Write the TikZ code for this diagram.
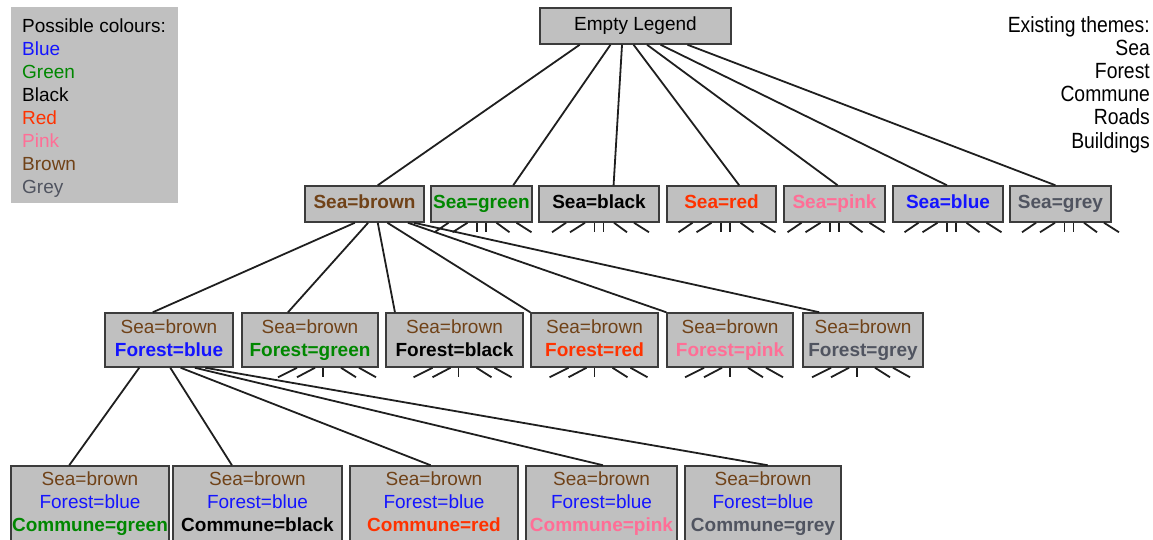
\documentclass[tikz,border=0pt]{standalone}
\usepackage{fontspec}
\setmainfont{Liberation Sans}
\newfontfamily\narrowfont[FakeStretch=0.88]{Liberation Sans}
\usetikzlibrary{calc}

\definecolor{cbrown}{RGB}{112,66,24}
\definecolor{cgreen}{RGB}{0,135,0}
\definecolor{cblue}{RGB}{20,20,255}
\definecolor{cred}{RGB}{255,50,0}
\definecolor{cpink}{RGB}{255,110,150}
\definecolor{cgrey}{RGB}{80,84,96}
\definecolor{boxfill}{RGB}{192,192,192}
\definecolor{boxline}{RGB}{60,60,60}

\tikzset{
  box/.style={draw=boxline, fill=boxfill, line width=1.5pt, inner sep=0pt,
    align=center, font=\fontsize{19}{23}\selectfont,
    execute at begin node=\vphantom{Sb}, execute at end node=\vphantom{g}},
  conn/.style={line width=1.8pt, draw=black!88},
  legtext/.style={anchor=base west, inner sep=0pt, font=\fontsize{19}{23}\selectfont},
  themetext/.style={anchor=base east, inner sep=0pt, font=\narrowfont\fontsize{22}{23}\selectfont},
}

% connector from a point along the bottom of one node to a point along the top of another
\newcommand\treeedge[4]{%
  \draw[conn] ($(#1.south west)!#2!(#1.south east)$) -- ($(#3.north west)!#4!(#3.north east)$);}
% short stubs below a node standing for six hidden children
\newcommand\stubsix[2]{%
  \foreach \s/\d in {-33/-14, -14/-15, -4.5/0, 4.5/0, 15/13, 35/15}
    \draw[conn] ($(#1.south)+(\s+#2,0)$) -- ++(\d,9.5);}
% short stubs below a node standing for five hidden children
\newcommand\stubfive[2]{%
  \foreach \s/\d in {-26/-19, -8/-18, 0/0, 18/15, 36/17}
    \draw[conn] ($(#1.south)+(\s+#2,0)$) -- ++(\d,9.5);}

\begin{document}
\begin{tikzpicture}[x=1pt,y=-1pt]
\useasboundingbox (0,0) rectangle (1153,539);

% colour legend
\node[fill=boxfill, inner sep=0pt, minimum width=167pt, minimum height=196pt, anchor=north west]
  (legendbox) at (11,7) {};
\node[legtext] (leg1) at (22,32) {Possible colours:};
\node[legtext, text=cblue]  (leg2) at (22,55) {Blue};
\node[legtext, text=cgreen] (leg3) at (22,78) {Green};
\node[legtext, text=black]  (leg4) at (22,101) {Black};
\node[legtext, text=cred]   (leg5) at (22,124) {Red};
\node[legtext, text=cpink]  (leg6) at (22,147) {Pink};
\node[legtext, text=cbrown] (leg7) at (22,170) {Brown};
\node[legtext, text=cgrey]  (leg8) at (22,193) {Grey};

% theme list
\node[themetext] (th1) at (1150,32) {Existing themes:};
\node[themetext] (th2) at (1150,55.2) {Sea};
\node[themetext] (th3) at (1150,78.4) {Forest};
\node[themetext] (th4) at (1150,101.6) {Commune};
\node[themetext] (th5) at (1150,124.8) {Roads};
\node[themetext] (th6) at (1150,148) {Buildings};

% root
\node[box, minimum width=191pt, minimum height=36pt] (root) at (635.5,26) {Empty Legend};

% first level: sea colour
\begin{scope}[every node/.append style={box, minimum height=36pt, font=\fontsize{19}{23}\selectfont\bfseries}]
\node[minimum width=119pt, text=cbrown] (sbrown) at (364.5,204) {Sea=brown};
\node[minimum width=101pt, text=cgreen] (sgreen) at (481.5,204) {Sea=green};
\node[minimum width=120pt, text=black]  (sblack) at (599,204) {Sea=black};
\node[minimum width=109pt, text=cred]   (sred)   at (721.5,204) {Sea=red};
\node[minimum width=101pt, text=cpink]  (spink)  at (834.5,204) {Sea=pink};
\node[minimum width=110pt, text=cblue]  (sblue)  at (948,204) {Sea=blue};
\node[minimum width=101pt, text=cgrey]  (sgrey)  at (1060.5,204) {Sea=grey};
\end{scope}

% second level: forest colour
\begin{scope}[every node/.append style={box, minimum height=54pt}]
\node[minimum width=128pt] (fblue)  at (169,340)   {\textcolor{cbrown}{Sea=brown}\\\textcolor{cblue}{\bfseries Forest=blue}};
\node[minimum width=136pt] (fgreen) at (310,340)   {\textcolor{cbrown}{Sea=brown}\\\textcolor{cgreen}{\bfseries Forest=green}};
\node[minimum width=137pt] (fblack) at (454.5,340) {\textcolor{cbrown}{Sea=brown}\\\textcolor{black}{\bfseries Forest=black}};
\node[minimum width=127pt] (fred)   at (594.5,340) {\textcolor{cbrown}{Sea=brown}\\\textcolor{cred}{\bfseries Forest=red}};
\node[minimum width=126pt] (fpink)  at (730,340)   {\textcolor{cbrown}{Sea=brown}\\\textcolor{cpink}{\bfseries Forest=pink}};
\node[minimum width=120pt] (fgrey)  at (863,340)   {\textcolor{cbrown}{Sea=brown}\\\textcolor{cgrey}{\bfseries Forest=grey}};
\end{scope}

% third level: commune colour
\begin{scope}[every node/.append style={box, minimum height=76pt}]
\node[minimum width=158pt] (cgreenn) at (90,504)    {\textcolor{cbrown}{Sea=brown}\\\textcolor{cblue}{Forest=blue}\\\textcolor{cgreen}{\bfseries Commune=green}};
\node[minimum width=169pt] (cblackn) at (257.5,504) {\textcolor{cbrown}{Sea=brown}\\\textcolor{cblue}{Forest=blue}\\\textcolor{black}{\bfseries Commune=black}};
\node[minimum width=168pt] (credn)   at (434,504)   {\textcolor{cbrown}{Sea=brown}\\\textcolor{cblue}{Forest=blue}\\\textcolor{cred}{\bfseries Commune=red}};
\node[minimum width=151pt] (cpinkn)  at (601.5,504) {\textcolor{cbrown}{Sea=brown}\\\textcolor{cblue}{Forest=blue}\\\textcolor{cpink}{\bfseries Commune=pink}};
\node[minimum width=156pt] (cgreyn)  at (763,504)   {\textcolor{cbrown}{Sea=brown}\\\textcolor{cblue}{Forest=blue}\\\textcolor{cgrey}{\bfseries Commune=grey}};
\end{scope}

% edges from the root
\treeedge{root}{0.21}{sbrown}{0.61}
\treeedge{root}{0.37}{sgreen}{0.81}
\treeedge{root}{0.43}{sblack}{0.62}
\treeedge{root}{0.49}{sred}{0.66}
\treeedge{root}{0.56}{spink}{0.53}
\treeedge{root}{0.63}{sblue}{0.49}
\treeedge{root}{0.77}{sgrey}{0.45}

% edges from Sea=brown
\treeedge{sbrown}{0.42}{fblue}{0.375}
\treeedge{sbrown}{0.53}{fgreen}{0.34}
\treeedge{sbrown}{0.61}{fblack}{0.07}
\treeedge{sbrown}{0.69}{fred}{0.0}
\treeedge{sbrown}{0.86}{fpink}{0.0}
\treeedge{sbrown}{0.91}{fgrey}{0.14}

% edges from Forest=blue
\treeedge{fblue}{0.27}{cgreenn}{0.37}
\treeedge{fblue}{0.51}{cblackn}{0.35}
\treeedge{fblue}{0.59}{credn}{0.48}
\treeedge{fblue}{0.70}{cpinkn}{0.51}
\treeedge{fblue}{0.78}{cgreyn}{0.53}

% collapsed subtrees
\stubsix{sgreen}{0}
\stubsix{sblack}{0}
\stubsix{sred}{4}
\stubsix{spink}{0}
\stubsix{sblue}{3.5}
\stubsix{sgrey}{8.5}
\stubfive{fgreen}{13}
\stubfive{fblack}{4}
\stubfive{fred}{0}
\stubfive{fpink}{0}
\stubfive{fgrey}{-6}

\end{tikzpicture}
\end{document}
